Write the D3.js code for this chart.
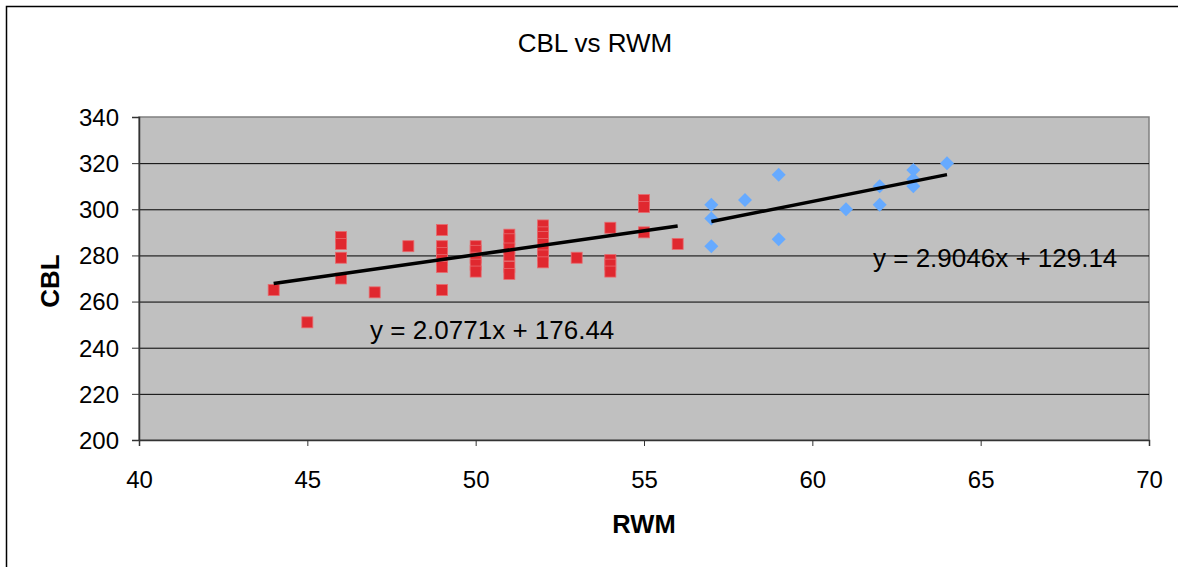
<!DOCTYPE html>
<html>
<head>
<meta charset="utf-8">
<script src="https://cdn.jsdelivr.net/npm/d3@7"></script>
<style>
  body { margin: 0; background: #fff; }
  svg { display: block; font-family: "Liberation Sans", Arial, sans-serif; }
</style>
</head>
<body>
<div id="chart"></div>
<script>
// series 1 (red squares): RWM, CBL
let redX = [44, 45, 46, 46, 46, 46, 47, 48, 49, 49, 49, 49, 49, 49,
            50, 50, 50, 50, 50, 51, 51, 51, 51, 51, 51,
            52, 52, 52, 52, 52, 52, 52, 53, 54, 54, 54, 54, 55, 55, 55, 56]
let redY = [265, 251, 288, 285, 279, 270, 264, 284, 291, 284, 281, 278, 275, 265,
            284, 282, 279, 276, 273, 289, 287, 283, 280, 275, 272,
            293, 290, 288, 285, 282, 280, 277, 279, 292, 278, 276, 273, 304, 301, 290, 285]
// series 2 (blue diamonds)
let blueX = [57, 57, 57, 58, 59, 59, 61, 62, 62, 63, 63, 63, 64]
let blueY = [302, 296, 284, 304, 315, 287, 300, 310, 302, 317, 313, 310, 320]

// trendlines: [slope, intercept, xStart, xEnd]
let redFit = [2.0771, 176.44, 44, 56]
let blueFit = [2.9046, 129.14, 57, 64]
let redLabel = "y = 2.0771x + 176.44"
let blueLabel = "y = 2.9046x + 129.14"

let xTicks = [40, 45, 50, 55, 60, 65, 70]
let yTicks = [200, 220, 240, 260, 280, 300, 320, 340]

const width = 1178, height = 567
const plot = {left: 139, top: 117, right: 1149, bottom: 440}

let svg = d3.select("#chart").append("svg")
    .attr("width", width)
    .attr("height", height)

// outer chart border
svg.append("rect")
    .attr("x", 6.5).attr("y", 6.5)
    .attr("width", width).attr("height", height)
    .attr("fill", "#fff")
    .attr("stroke", "#000")
    .attr("stroke-width", 1.5)

let x = d3.scaleLinear().domain([40, 70]).range([plot.left, plot.right])
let y = d3.scaleLinear().domain([200, 340]).range([plot.bottom, plot.top])

// plot background
svg.append("rect")
    .attr("x", plot.left).attr("y", plot.top)
    .attr("width", plot.right - plot.left).attr("height", plot.bottom - plot.top)
    .attr("fill", "#c0c0c0")
    .attr("stroke", "#808080")
    .attr("stroke-width", 1.5)

// gridlines
svg.append("g").selectAll("line")
    .data(yTicks.filter(d => d > 200 && d < 340))
    .enter().append("line")
    .attr("x1", plot.left).attr("x2", plot.right)
    .attr("y1", d => y(d) + 0.5).attr("y2", d => y(d) + 0.5)
    .attr("stroke", "#000")
    .attr("stroke-width", 1)

// axes
let yAxis = svg.append("g")
    .attr("transform", `translate(${plot.left},0)`)
    .call(d3.axisLeft(y).tickValues(yTicks).tickSize(7).tickPadding(13))
let xAxis = svg.append("g")
    .attr("transform", `translate(0,${plot.bottom})`)
    .call(d3.axisBottom(x).tickValues(xTicks).tickSize(6).tickPadding(25))

;[yAxis, xAxis].forEach(a => {
    a.select(".domain").attr("stroke", "#333").attr("stroke-width", 1.5)
    a.selectAll(".tick line").attr("stroke", "#333")
    a.selectAll(".tick text")
        .attr("fill", "#000")
        .style("font-size", "24px")
        .style("font-family", "Liberation Sans, Arial, sans-serif")
})
yAxis.selectAll(".tick text").attr("dy", "0.35em")

// red squares
let sq = 11
svg.append("g").selectAll("rect")
    .data(redX.map((d, i) => [d, redY[i]]))
    .enter().append("rect")
    .attr("x", d => x(d[0]) - sq / 2)
    .attr("y", d => y(d[1]) - sq / 2)
    .attr("width", sq).attr("height", sq)
    .attr("fill", "#e0282f")
    .attr("stroke", "#e86a6e")
    .attr("stroke-width", 0.8)

// blue diamonds
let dm = 7
svg.append("g").selectAll("path")
    .data(blueX.map((d, i) => [d, blueY[i]]))
    .enter().append("path")
    .attr("d", d => {
        let cx = x(d[0]), cy = y(d[1])
        return `M${cx},${cy - dm}L${cx + dm},${cy}L${cx},${cy + dm}L${cx - dm},${cy}Z`
    })
    .attr("fill", "#66aaff")

// trendlines
;[redFit, blueFit].forEach(f => {
    svg.append("line")
        .attr("x1", x(f[2])).attr("y1", y(f[0] * f[2] + f[1]))
        .attr("x2", x(f[3])).attr("y2", y(f[0] * f[3] + f[1]))
        .attr("stroke", "#000")
        .attr("stroke-width", 3.5)
})

// equation labels
svg.append("text")
    .attr("x", 370).attr("y", 339)
    .style("font-size", "26px")
    .text(redLabel)
svg.append("text")
    .attr("x", 873).attr("y", 267)
    .style("font-size", "26px")
    .text(blueLabel)

// title
svg.append("text")
    .attr("x", 595).attr("y", 52)
    .attr("text-anchor", "middle")
    .style("font-size", "26px")
    .text("CBL vs RWM")

// axis titles
svg.append("text")
    .attr("transform", `translate(59, 281) rotate(-90)`)
    .attr("text-anchor", "middle")
    .style("font-size", "26px")
    .style("font-weight", "bold")
    .text("CBL")
svg.append("text")
    .attr("x", 644).attr("y", 533)
    .attr("text-anchor", "middle")
    .style("font-size", "25.5px")
    .style("font-weight", "bold")
    .text("RWM")
</script>
</body>
</html>
